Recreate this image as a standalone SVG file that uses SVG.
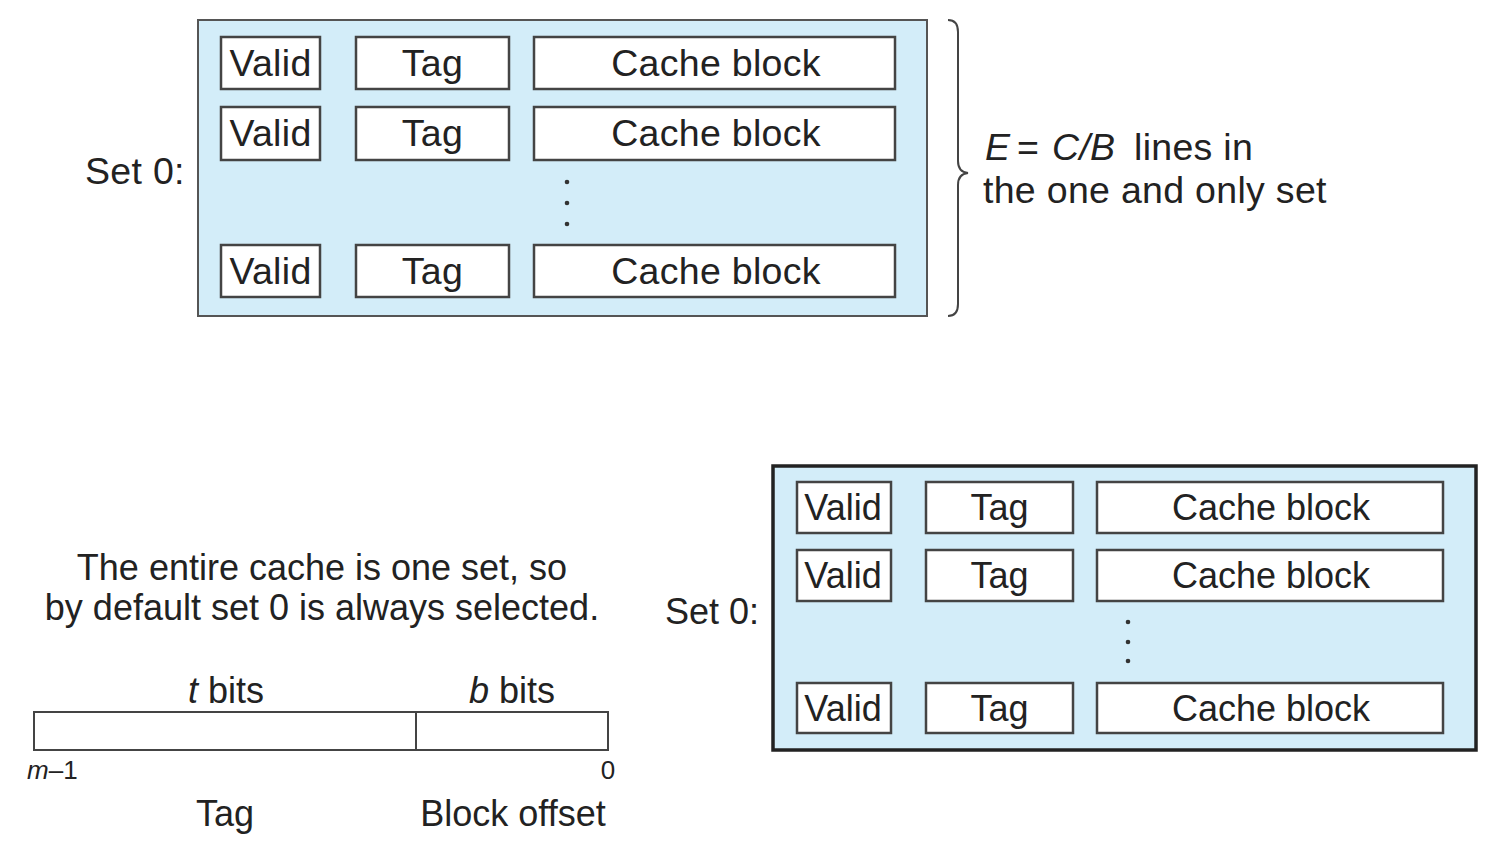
<svg xmlns="http://www.w3.org/2000/svg" width="1495" height="857" viewBox="0 0 1495 857">
<style>
text{font-family:"Liberation Sans",Arial,sans-serif;fill:#222;font-size:36px}
.big{font-size:37.5px;letter-spacing:0.3px}
.small{font-size:26px}
.set1{fill:#d3edf9;stroke:#555;stroke-width:2}
.set2{fill:#d3edf9;stroke:#222;stroke-width:3.5}
.cell{fill:#fff;stroke:#444;stroke-width:2.5}
.mid{text-anchor:middle}
.dot{fill:#333}
.line{fill:none;stroke:#444;stroke-width:2}
</style>
<rect width="1495" height="857" fill="#fff"/>
<g id="top-set">
<rect class="set1" x="198" y="20" width="729" height="296"/>
<text x="85" y="184" class="big">Set 0:</text>
<g id="top-line1">
<rect class="cell" x="221" y="37" width="99" height="52"/><text x="270.5" y="76" class="mid big">Valid</text>
<rect class="cell" x="356" y="37" width="153" height="52"/><text x="432.5" y="76" class="mid big">Tag</text>
<rect class="cell" x="534" y="37" width="361" height="52"/><text x="716" y="76" class="mid big">Cache block</text>
</g>
<g id="top-line2">
<rect class="cell" x="221" y="107" width="99" height="53"/><text x="270.5" y="146" class="mid big">Valid</text>
<rect class="cell" x="356" y="107" width="153" height="53"/><text x="432.5" y="146" class="mid big">Tag</text>
<rect class="cell" x="534" y="107" width="361" height="53"/><text x="716" y="146" class="mid big">Cache block</text>
</g>
<circle class="dot" cx="567" cy="182" r="2.3"/><circle class="dot" cx="567" cy="203" r="2.3"/><circle class="dot" cx="567" cy="224" r="2.3"/>
<g id="top-lineE">
<rect class="cell" x="221" y="245" width="99" height="52"/><text x="270.5" y="284" class="mid big">Valid</text>
<rect class="cell" x="356" y="245" width="153" height="52"/><text x="432.5" y="284" class="mid big">Tag</text>
<rect class="cell" x="534" y="245" width="361" height="52"/><text x="716" y="284" class="mid big">Cache block</text>
</g>
</g>
<g id="brace">
<path class="line" d="M948,20 Q958,20 958,32 L958,161 Q958,172 968,173 Q958,174 958,185 L958,304 Q958,316 948,316"/>
<text y="160" class="big"><tspan x="985" font-style="italic">E</tspan><tspan x="1017">=</tspan><tspan x="1052" font-style="italic">C/B</tspan><tspan x="1134">lines in</tspan></text>
<text x="983" y="203" class="big">the one and only set</text>
</g>
<g id="caption">
<text x="322" y="580" class="mid">The entire cache is one set, so</text>
<text x="322" y="620" class="mid">by default set 0 is always selected.</text>
</g>
<g id="address">
<text x="226" y="703" class="mid"><tspan font-style="italic">t</tspan> bits</text>
<text x="512" y="703" class="mid"><tspan font-style="italic">b</tspan> bits</text>
<rect class="cell" x="34" y="712" width="574" height="38" style="stroke-width:2"/>
<line class="line" x1="416" y1="712" x2="416" y2="750"/>
<text x="27" y="779" class="small"><tspan font-style="italic">m</tspan>–1</text>
<text x="608" y="779" class="small mid">0</text>
<text x="225" y="826" class="mid">Tag</text>
<text x="513" y="826" class="mid">Block offset</text>
</g>
<g id="bottom-set">
<rect class="set2" x="773" y="466" width="703" height="284"/>
<text x="665" y="624">Set 0:</text>
<g id="bot-line1">
<rect class="cell" x="797" y="482" width="94" height="51"/><text x="843" y="520" class="mid">Valid</text>
<rect class="cell" x="926" y="482" width="147" height="51"/><text x="999.5" y="520" class="mid">Tag</text>
<rect class="cell" x="1097" y="482" width="346" height="51"/><text x="1271" y="520" class="mid">Cache block</text>
</g>
<g id="bot-line2">
<rect class="cell" x="797" y="550" width="94" height="51"/><text x="843" y="588" class="mid">Valid</text>
<rect class="cell" x="926" y="550" width="147" height="51"/><text x="999.5" y="588" class="mid">Tag</text>
<rect class="cell" x="1097" y="550" width="346" height="51"/><text x="1271" y="588" class="mid">Cache block</text>
</g>
<circle class="dot" cx="1128" cy="622" r="2.3"/><circle class="dot" cx="1128" cy="642" r="2.3"/><circle class="dot" cx="1128" cy="661" r="2.3"/>
<g id="bot-lineE">
<rect class="cell" x="797" y="683" width="94" height="50"/><text x="843" y="721" class="mid">Valid</text>
<rect class="cell" x="926" y="683" width="147" height="50"/><text x="999.5" y="721" class="mid">Tag</text>
<rect class="cell" x="1097" y="683" width="346" height="50"/><text x="1271" y="721" class="mid">Cache block</text>
</g>
</g>
</svg>
